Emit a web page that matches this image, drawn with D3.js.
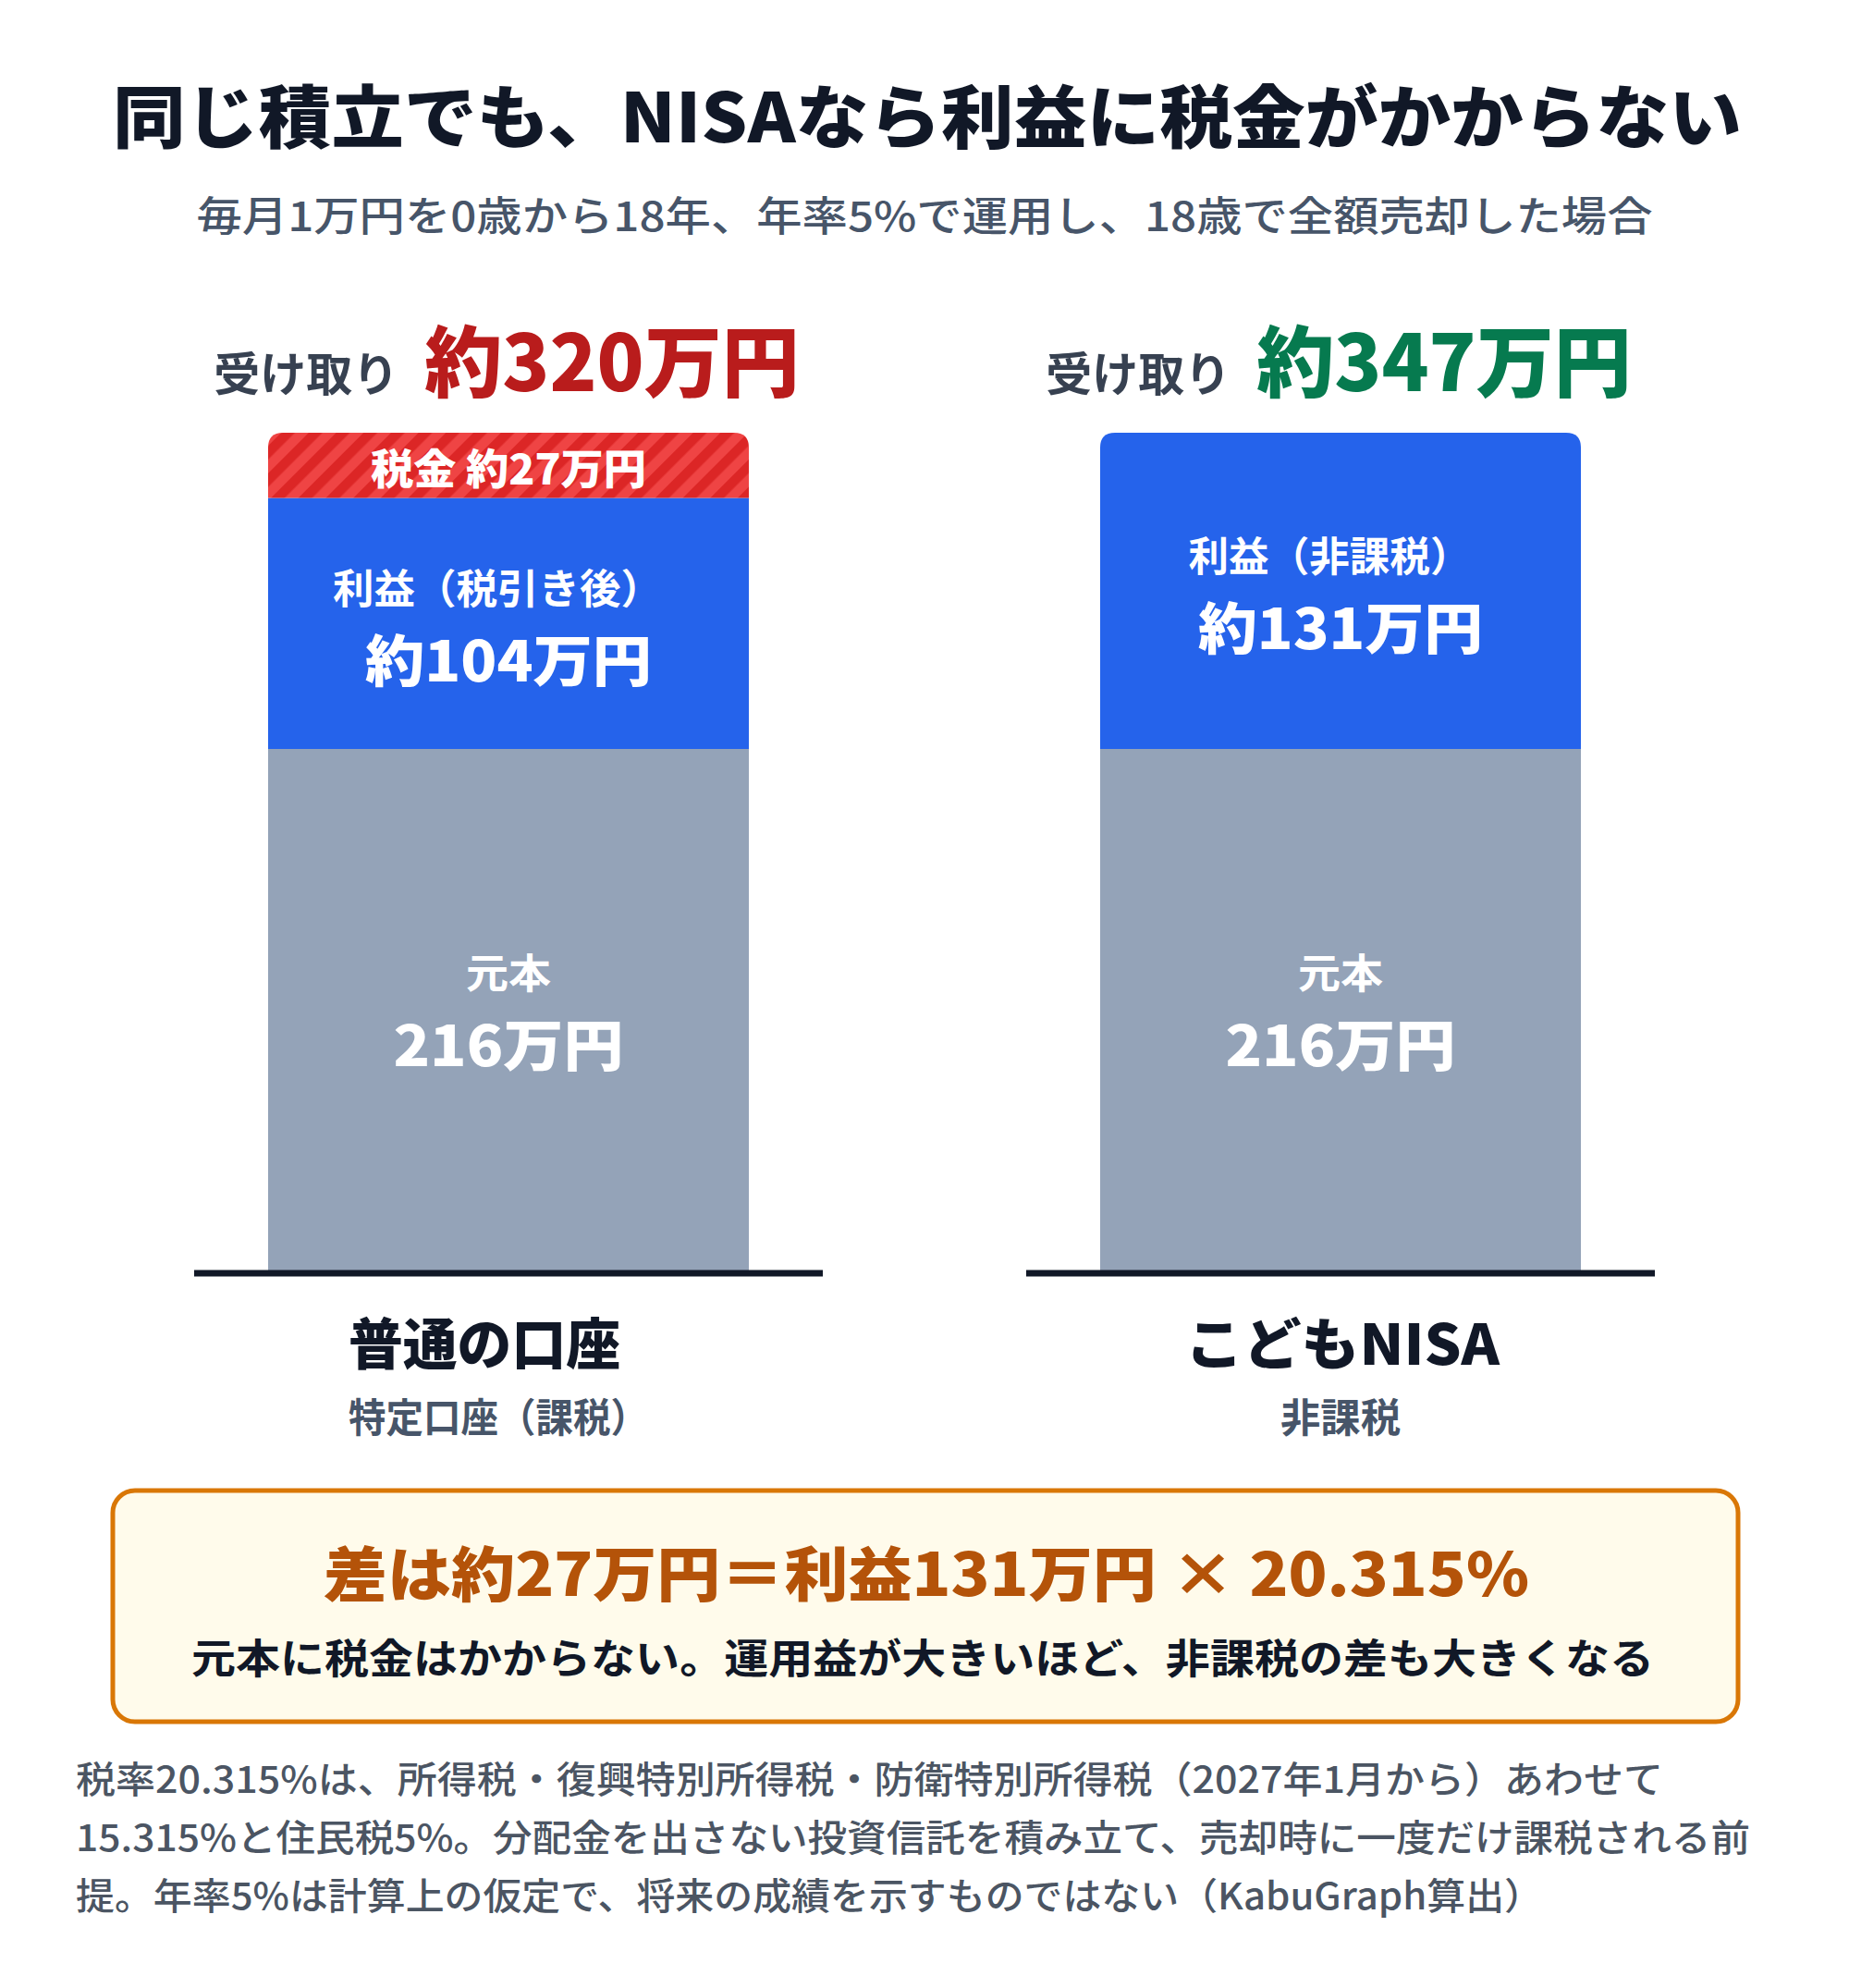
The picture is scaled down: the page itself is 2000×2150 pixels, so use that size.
<!DOCTYPE html>
<html lang="ja">
<head>
<meta charset="utf-8">
<script src="https://cdn.jsdelivr.net/npm/d3@7"></script>
<style>
  html, body { margin: 0; padding: 0; background: #ffffff; }
  svg { display: block; font-family: "Noto Sans CJK JP", "Noto Sans", sans-serif; }
</style>
</head>
<body>
<svg id="chart" width="2000" height="2150"></svg>
<script>
// ---------- data ----------
const categories = ["普通の口座", "こどもNISA"];
const categorySubs = ["特定口座（課税）", "非課税"];
const principal = [216, 216];
const profitNet = [104, 131];
const taxAmount = [27, 0];
const profitLabels = ["利益（税引き後）", "利益（非課税）"];
const principalLabel = "元本";
const taxLabel = "税金";
const receiveLabel = "受け取り";
const totalColors = ["#b91c1c", "#067a4f"];
const taxRate = "20.315";

const titleText = "同じ積立でも、NISAなら利益に税金がかからない";
const subtitleText = "毎月1万円を0歳から18年、年率5%で運用し、18歳で全額売却した場合";
const calloutMain = `差は約${taxAmount[0]}万円＝利益${profitNet[1]}万円 × ${taxRate}%`;
const calloutSub = "元本に税金はかからない。運用益が大きいほど、非課税の差も大きくなる";
const footnoteLines = [
  "税率20.315%は、所得税・復興特別所得税・防衛特別所得税（2027年1月から）あわせて",
  "15.315%と住民税5%。分配金を出さない投資信託を積み立て、売却時に一度だけ課税される前",
  "提。年率5%は計算上の仮定で、将来の成績を示すものではない（KabuGraph算出）"
];

// ---------- setup ----------
const svg = d3.select("#chart");
const rows = categories.map((c, i) => ({
  category: c, principal: principal[i], profit: profitNet[i], tax: taxAmount[i]
}));
const keys = ["principal", "profit", "tax"];
const stacked = d3.stack().keys(keys)(rows);
const maxTotal = d3.max(rows, d => d.principal + d.profit + d.tax);

const x = d3.scaleBand().domain(categories).range([100, 1900])
  .paddingInner(0.4222).paddingOuter(0.2111);
const y = d3.scaleLinear().domain([0, maxTotal]).range([1374, 468]);

const colors = { principal: "#94a3b8", profit: "#2563eb", tax: "url(#taxStripes)" };

// stripe pattern
const defs = svg.append("defs");
const pat = defs.append("pattern").attr("id", "taxStripes")
  .attr("patternUnits", "userSpaceOnUse").attr("width", 21).attr("height", 21)
  .attr("patternTransform", "rotate(45)");
pat.append("rect").attr("width", 21).attr("height", 21).attr("fill", "#ef4444");
pat.append("rect").attr("width", 10.5).attr("height", 21).attr("fill", "#dc2626");

// text helper
function txt(g, s, xx, yy, size, weight, fill, opts = {}) {
  const t = g.append("text").attr("x", xx).attr("y", yy)
    .attr("font-size", size).attr("font-weight", weight).attr("fill", fill)
    .attr("text-anchor", opts.anchor || "middle")
    .attr("dominant-baseline", "central").text(s);
  if (opts.len) t.attr("textLength", opts.len).attr("lengthAdjust", "spacingAndGlyphs");
  return t;
}

// ---------- title ----------
txt(svg, titleText, 1003, 121, 74, 900, "#111827", { len: 1762 });
txt(svg, subtitleText, 1000, 231, 44, 500, "#475569", { len: 1575 });

// ---------- bars ----------
const r = 16;
function segPath(x0, x1, yt, yb, rounded) {
  if (!rounded) return `M${x0},${yb}V${yt}H${x1}V${yb}Z`;
  return `M${x0},${yb}V${yt + r}Q${x0},${yt} ${x0 + r},${yt}H${x1 - r}Q${x1},${yt} ${x1},${yt + r}V${yb}Z`;
}

const barG = svg.append("g");
stacked.forEach((layer, li) => {
  layer.forEach((d, i) => {
    if (d[1] - d[0] <= 0) return;
    const cat = categories[i];
    const x0 = x(cat), x1 = x(cat) + x.bandwidth();
    const isTop = keys.slice(li + 1).every(k => rows[i][k] === 0);
    barG.append("path")
      .attr("d", segPath(x0, x1, y(d[1]), y(d[0]), isTop))
      .attr("fill", colors[layer.key]);
  });
});

// per-category text widths (match reference typesetting)
const profitTitleLen = [356, 305];
const profitValueLen = [310, 308];
const principalValueLen = [249, 249];
const catLen = [294, 340];
const catDx = [-26, 2];
const subLen = [324, 130];
const subDx = [-11, 0];

const labG = svg.append("g");
categories.forEach((cat, i) => {
  const cx = x(cat) + x.bandwidth() / 2;
  // principal
  let mid = (y(0) + y(principal[i])) / 2;
  txt(labG, principalLabel, cx, mid - 42, 44, 700, "#ffffff", { len: 92 });
  txt(labG, `${principal[i]}万円`, cx, mid + 34, 60, 900, "#ffffff", { len: principalValueLen[i] });
  // profit
  mid = (y(principal[i]) + y(principal[i] + profitNet[i])) / 2;
  txt(labG, profitLabels[i], cx - 12, mid - 40, 44, 700, "#ffffff", { len: profitTitleLen[i] });
  txt(labG, `約${profitNet[i]}万円`, cx, mid + 36, 60, 900, "#ffffff", { len: profitValueLen[i] });
  // tax
  if (taxAmount[i] > 0) {
    mid = (y(principal[i] + profitNet[i]) + y(principal[i] + profitNet[i] + taxAmount[i])) / 2;
    txt(labG, `${taxLabel} 約${taxAmount[i]}万円`, cx, mid + 1, 45, 900, "#ffffff", { len: 298 });
  }
  // header: total received
  const total = principal[i] + profitNet[i];
  const h = labG.append("text").attr("x", cx - 2).attr("y", 423)
    .attr("text-anchor", "middle");
  h.append("tspan").attr("font-size", 50).attr("font-weight", 700)
    .attr("fill", "#374151").text(receiveLabel);
  h.append("tspan").attr("dx", 28).attr("font-size", 84).attr("font-weight", 900)
    .attr("fill", totalColors[i]).text(`約${total}万円`);
  // baseline
  labG.append("line").attr("x1", x(cat) - 80).attr("x2", x(cat) + x.bandwidth() + 80)
    .attr("y1", y(0) + 3).attr("y2", y(0) + 3)
    .attr("stroke", "#111827").attr("stroke-width", 7);
  // category labels
  txt(labG, cat, cx + catDx[i], 1449, 60, 900, "#111827", { len: catLen[i] });
  txt(labG, categorySubs[i], cx + subDx[i], 1530, 43, 700, "#475569", { len: subLen[i] });
});

// ---------- callout ----------
const cg = svg.append("g");
cg.append("rect").attr("x", 122).attr("y", 1612).attr("width", 1758).attr("height", 250)
  .attr("rx", 24).attr("fill", "#fffbeb").attr("stroke", "#d97706").attr("stroke-width", 5);
txt(cg, calloutMain, 1002, 1698, 64, 900, "#b45309", { len: 1304 });
txt(cg, calloutSub, 998, 1791, 44, 700, "#111827", { len: 1582 });

// ---------- footnote ----------
const fg = svg.append("g");
const fnLens = [1717, 1811, 1587];
footnoteLines.forEach((s, i) => {
  txt(fg, s, 82, 1922 + i * 63, 40, 500, "#4b5563", { anchor: "start", len: fnLens[i] });
});
</script>
</body>
</html>
